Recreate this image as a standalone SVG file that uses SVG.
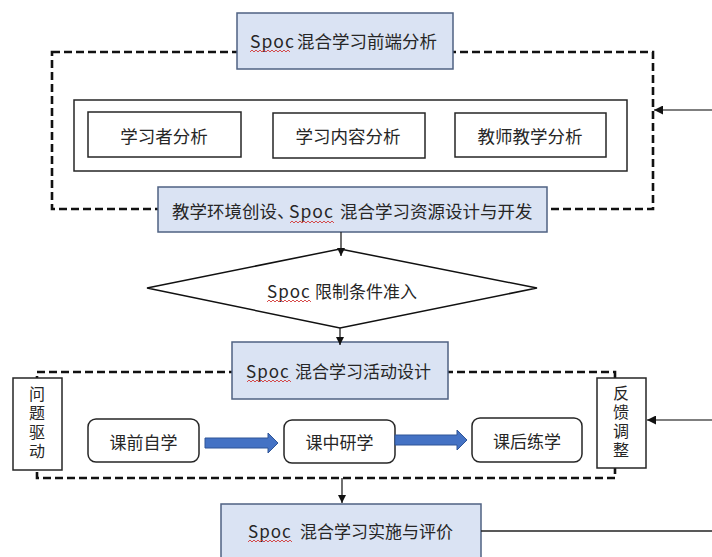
<svg xmlns="http://www.w3.org/2000/svg" width="712" height="557" viewBox="0 0 712 557">
  <style>
    text { font-family: "Noto Sans CJK SC", "Microsoft YaHei", sans-serif; fill: #262626; dominant-baseline: central; }
    .t17 { font-size: 17px; }
    .t18 { font-size: 17.5px; }
    .tv { font-size: 16px; }
    .sp { letter-spacing: 1px; }
    .blue { fill: #dae3f3; stroke: #4f6282; stroke-width: 1.5; }
    .plain { fill: #ffffff; stroke: #262626; stroke-width: 1.5; }
    .dash { fill: none; stroke: #111; stroke-width: 2.6; stroke-dasharray: 8 4; }
    .line { fill: none; stroke: #222; stroke-width: 1.3; }
    .thin { fill: none; stroke: #555; stroke-width: 1.3; }
    .squig { fill: none; stroke: #d23a3a; stroke-width: 0.9; }
    .fat { fill: #4472c4; stroke: #2f5597; stroke-width: 1; }
  </style>
  <defs>
    <marker id="ah" viewBox="0 0 10 10" refX="10" refY="5" markerWidth="8" markerHeight="8" markerUnits="userSpaceOnUse" orient="auto">
      <path d="M0,0 L10,5 L0,10 z" fill="#111"/>
    </marker>
    <marker id="ah2" viewBox="0 0 10 10" refX="10" refY="5" markerWidth="9" markerHeight="9" markerUnits="userSpaceOnUse" orient="auto">
      <path d="M0,0 L10,5 L0,10 z" fill="#111"/>
    </marker>
  </defs>

  <!-- dashed group frames -->
  <g id="frames">
    <rect class="dash" x="52" y="52" width="601" height="157"/>
    <rect class="dash" x="37" y="372" width="578" height="106"/>
  </g>

  <g id="n-frontend">
    <rect class="blue" x="237" y="13" width="216" height="56"/>
    <text class="t18" y="40"><tspan class="sp" x="250">Spoc </tspan><tspan x="297">混合学习前端分析</tspan></text>
    <path class="squig" d="M250,52 l2,-2 l2,2 l2,-2 l2,2 l2,-2 l2,2 l2,-2 l2,2 l2,-2 l2,2 l2,-2 l2,2 l2,-2 l2,2 l2,-2 l2,2 l2,-2 l2,2 l2,-2 l2,2"/>
  </g>

  <g id="n-analysis">
    <rect class="plain" x="74" y="100" width="553" height="71"/>
  </g>
  <g id="n-learner">
    <rect class="plain" x="88" y="112" width="153" height="45"/>
    <text class="t18" x="164" y="135" text-anchor="middle">学习者分析</text>
  </g>
  <g id="n-content">
    <rect class="plain" x="273" y="113" width="152" height="45"/>
    <text class="t18" x="348" y="135" text-anchor="middle">学习内容分析</text>
  </g>
  <g id="n-teacher">
    <rect class="plain" x="455" y="113" width="151" height="44"/>
    <text class="t18" x="530" y="135" text-anchor="middle">教师教学分析</text>
  </g>

  <g id="n-env">
    <rect class="blue" x="158" y="187" width="389" height="45"/>
    <text class="t18" y="210"><tspan x="172">教学环境创设、</tspan><tspan class="sp" x="289">Spoc </tspan><tspan x="340">混合学习资源设计与开发</tspan></text>
    <path class="squig" d="M290,223 l2,-2 l2,2 l2,-2 l2,2 l2,-2 l2,2 l2,-2 l2,2 l2,-2 l2,2 l2,-2 l2,2 l2,-2 l2,2 l2,-2 l2,2 l2,-2 l2,2 l2,-2 l2,2 l2,-2 l2,2"/>
  </g>

  <g id="n-limit">
    <polygon points="340,249 537,288 340,328 147,288" fill="#ffffff" stroke="#111" stroke-width="1.5"/>
    <text class="t17" y="290"><tspan class="sp" x="267">Spoc </tspan><tspan x="315">限制条件准入</tspan></text>
    <path class="squig" d="M267,302 l2,-2 l2,2 l2,-2 l2,2 l2,-2 l2,2 l2,-2 l2,2 l2,-2 l2,2 l2,-2 l2,2 l2,-2 l2,2 l2,-2 l2,2 l2,-2 l2,2 l2,-2 l2,2 l2,-2 l2,2"/>
  </g>

  <g id="n-activity">
    <rect class="blue" x="232" y="342" width="216" height="57"/>
    <text class="t17" y="370"><tspan class="sp" x="246">Spoc </tspan><tspan x="295">混合学习活动设计</tspan></text>
    <path class="squig" d="M247,382 l2,-2 l2,2 l2,-2 l2,2 l2,-2 l2,2 l2,-2 l2,2 l2,-2 l2,2 l2,-2 l2,2 l2,-2 l2,2 l2,-2 l2,2 l2,-2 l2,2 l2,-2 l2,2 l2,-2 l2,2"/>
  </g>

  <g id="n-problem">
    <rect class="plain" x="13" y="378" width="49" height="92"/>
    <text class="tv" text-anchor="middle"><tspan x="37" y="393">问</tspan><tspan x="37" y="412">题</tspan><tspan x="37" y="431">驱</tspan><tspan x="37" y="450">动</tspan></text>
  </g>

  <g id="n-feedback">
    <rect class="plain" x="597" y="378" width="49" height="90"/>
    <text class="tv" text-anchor="middle"><tspan x="621" y="392">反</tspan><tspan x="621" y="411">馈</tspan><tspan x="621" y="430">调</tspan><tspan x="621" y="449">整</tspan></text>
  </g>

  <g id="n-pre">
    <rect class="plain" x="88" y="419" width="111" height="43" rx="8"/>
    <text class="t17" x="143.5" y="441" text-anchor="middle">课前自学</text>
  </g>
  <g id="n-mid">
    <rect class="plain" x="284" y="420" width="111" height="43" rx="8"/>
    <text class="t17" x="339.5" y="441" text-anchor="middle">课中研学</text>
  </g>
  <g id="n-post">
    <rect class="plain" x="472" y="418" width="110" height="44" rx="8"/>
    <text class="t17" x="527" y="440" text-anchor="middle">课后练学</text>
  </g>

  <g id="n-implement">
    <rect class="blue" x="221" y="504" width="260" height="60"/>
    <text class="t17" y="530"><tspan class="sp" x="248">Spoc </tspan><tspan x="300">混合学习实施与评价</tspan></text>
    <path class="squig" d="M248,542 l2,-2 l2,2 l2,-2 l2,2 l2,-2 l2,2 l2,-2 l2,2 l2,-2 l2,2 l2,-2 l2,2 l2,-2 l2,2 l2,-2 l2,2 l2,-2 l2,2 l2,-2 l2,2 l2,-2 l2,2"/>
  </g>

  <!-- connectors -->
  <g id="connectors">
    <line class="line" x1="341" y1="232" x2="341" y2="256" marker-end="url(#ah)"/>
    <line class="line" x1="340" y1="328" x2="340" y2="345" marker-end="url(#ah)"/>
    <line class="line" x1="342" y1="478" x2="342" y2="503" marker-end="url(#ah)"/>
    <line class="thin" x1="712" y1="110" x2="654" y2="110" marker-end="url(#ah2)"/>
    <line class="thin" x1="712" y1="420" x2="647" y2="420" marker-end="url(#ah2)"/>
    <line class="line" x1="481" y1="531" x2="712" y2="531"/>
    <path class="fat" d="M205,438 L268,438 L268,433 L278,443 L268,453 L268,448 L205,448 Z"/>
    <path class="fat" d="M395,435 L457,435 L457,430 L467,440 L457,450 L457,445 L395,445 Z"/>
  </g>
</svg>
